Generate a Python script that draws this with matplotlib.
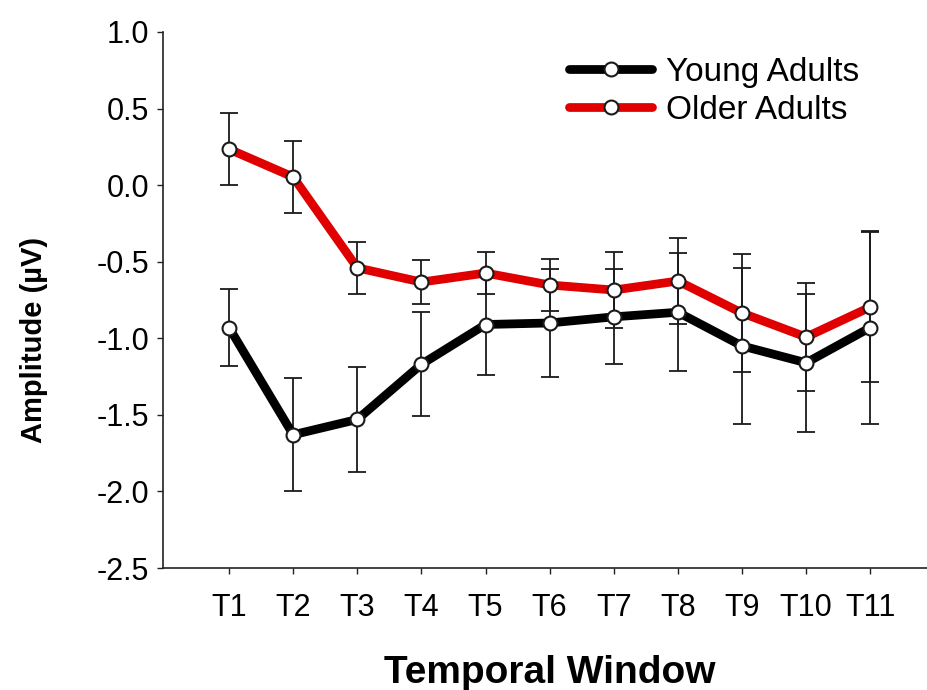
import matplotlib
matplotlib.use("Agg")
import matplotlib.pyplot as plt
import numpy as np

# values
windows = ["T1", "T2", "T3", "T4", "T5", "T6", "T7", "T8", "T9", "T10", "T11"]
young_mean = [-0.93, -1.63, -1.53, -1.17, -0.91, -0.90, -0.86, -0.83, -1.05, -1.16, -0.93]
young_err = [0.25, 0.37, 0.34, 0.34, 0.33, 0.35, 0.31, 0.385, 0.51, 0.45, 0.63]
older_mean = [0.235, 0.053, -0.54, -0.633, -0.574, -0.652, -0.685, -0.626, -0.835, -0.992, -0.796]
older_err = [0.235, 0.235, 0.17, 0.145, 0.14, 0.17, 0.25, 0.28, 0.385, 0.35, 0.49]

plt.rcParams['font.family'] = ['Liberation Sans', 'DejaVu Sans']

fig = plt.figure(figsize=(9.28, 6.9), dpi=100)
ax = fig.add_axes([163 / 928, 1 - 568 / 690, 1 - 163 / 928, (568 - 32) / 690])

x = np.arange(len(windows))
red = '#e00000'

for mean, err, color, label in [(young_mean, young_err, 'black', 'Young Adults'),
                                (older_mean, older_err, red, 'Older Adults')]:
    ax.errorbar(x, mean, yerr=err, fmt='none', ecolor='#1a1a1a', elinewidth=1.3,
                capsize=6.5, capthick=1.3, zorder=2)
    ax.plot(x, mean, color=color, lw=6.3, marker='o', markersize=10,
            markerfacecolor='white', markeredgecolor='#1a1a1a', markeredgewidth=1.5,
            label=label, zorder=3, solid_capstyle='round')

ax.set_xlim(-1.03, 10.9)
ax.set_ylim(-2.5, 1.0)
ax.set_yticks(np.arange(-2.5, 1.01, 0.5))
ax.set_yticklabels([f"{v:.1f}" for v in np.arange(-2.5, 1.01, 0.5)])
ax.set_xticks(x)
ax.set_xticklabels(windows)

ax.spines['top'].set_visible(False)
ax.spines['right'].set_visible(False)
for s in ['left', 'bottom']:
    ax.spines[s].set_linewidth(1.2)
    ax.spines[s].set_color('#222222')

ax.tick_params(axis='y', direction='out', length=4, width=1.0, labelsize=22, pad=6, colors='#222222', labelcolor='black')
ax.tick_params(axis='x', direction='out', length=4, width=1.0, labelsize=22, pad=14, colors='#222222', labelcolor='black')

ax.set_ylabel("Amplitude (µV)", fontsize=21, fontweight='bold')
ax.yaxis.label.set_va('center')
ax.yaxis.set_label_coords(-0.168, 0.425)
ax.set_xlabel("Temporal Window", fontsize=28, fontweight='bold')
ax.xaxis.label.set_va('center')
ax.xaxis.set_label_coords(0.506, -0.195)

ax.legend(loc='upper left', bbox_to_anchor=(569 / 928, 1 - 57 / 690),
          bbox_transform=fig.transFigure, frameon=False, fontsize=24,
          handlelength=2.5, handletextpad=0.4, labelspacing=0.2,
          borderpad=0, borderaxespad=0)

fig.savefig("out.png", dpi=100)
